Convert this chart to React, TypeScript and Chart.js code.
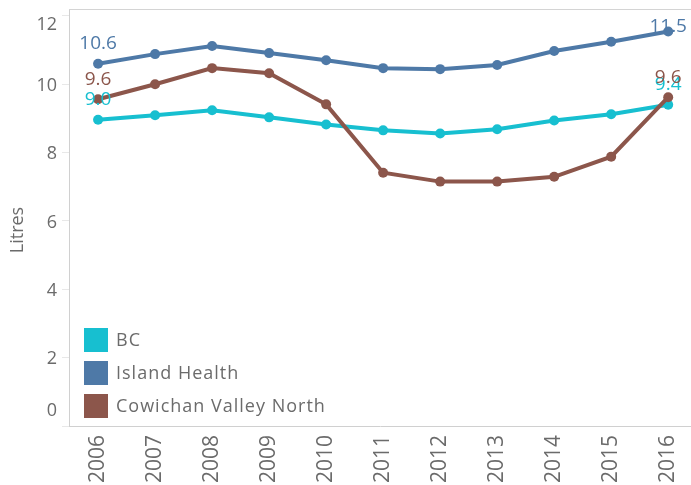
import React, { useEffect, useRef } from "react";
import { Chart, registerables } from "chart.js";

Chart.register(...registerables);

const years = [2006, 2007, 2008, 2009, 2010, 2011, 2012, 2013, 2014, 2015, 2016];
const seriesNames = ["BC", "Island Health", "Cowichan Valley North"];
const bcValues = [8.96, 9.09, 9.24, 9.03, 8.82, 8.65, 8.56, 8.68, 8.94, 9.12, 9.4];
const islandValues = [10.6, 10.88, 11.12, 10.91, 10.7, 10.47, 10.44, 10.56, 10.97, 11.24, 11.54];
const cowichanValues = [9.56, 10.0, 10.47, 10.32, 9.41, 7.41, 7.15, 7.15, 7.29, 7.88, 9.62];
const yTickValues = [0, 2, 4, 6, 8, 10, 12];
const yTitle = "Litres";

const seriesColors = ["#17bfd0", "#4e79a7", "#8c564b"];
const FONT = "'Open Sans', sans-serif";
const TEXT = "#6b6b6b";

const overlay = {
  id: "overlay",
  afterDraw(chart: any) {
    const { ctx, chartArea } = chart;
    const yScale = chart.scales.y;
    ctx.save();
    // top border
    ctx.strokeStyle = "#d4d4d4";
    ctx.lineWidth = 1;
    ctx.beginPath();
    ctx.moveTo(chartArea.left, chartArea.top + 0.5);
    ctx.lineTo(chartArea.right, chartArea.top + 0.5);
    ctx.stroke();

    // y tick labels
    ctx.fillStyle = TEXT;
    ctx.font = `18px ${FONT}`;
    ctx.textAlign = "right";
    ctx.textBaseline = "middle";
    yTickValues.forEach((v) => {
      let py = yScale.getPixelForValue(v) + 1.5;
      py = Math.max(chartArea.top + 16, Math.min(chartArea.bottom - 15, py));
      ctx.fillText(String(v), chartArea.left - 12, py);
    });

    // y title
    ctx.save();
    ctx.translate(18, 230);
    ctx.rotate(-Math.PI / 2);
    ctx.textAlign = "center";
    ctx.font = `18px ${FONT}`;
    ctx.fillText(yTitle, 0, 0);
    ctx.restore();

    // legend
    ctx.font = `18px ${FONT}`;
    ctx.textAlign = "left";
    (ctx as any).letterSpacing = "1px";
    seriesNames.forEach((name, i) => {
      const top = chartArea.bottom - 98 + i * 33;
      ctx.fillStyle = seriesColors[i];
      ctx.fillRect(chartArea.left + 15, top, 24, 24);
      ctx.fillStyle = TEXT;
      ctx.fillText(name, chartArea.left + 47, top + 13);
    });
    (ctx as any).letterSpacing = "0px";

    // data labels on first and last points
    ctx.font = `19px ${FONT}`;
    ctx.textAlign = "center";
    chart.data.datasets.forEach((ds: any, di: number) => {
      const meta = chart.getDatasetMeta(di);
      const n = meta.data.length;
      [0, n - 1].forEach((idx) => {
        const pt = meta.data[idx];
        const val = ds.data[idx].y;
        const cy = Math.max(pt.y - 20, chartArea.top + 18);
        ctx.fillStyle = seriesColors[di];
        ctx.fillText(val.toFixed(1), pt.x, cy);
      });
    });
    ctx.restore();
  },
};

export default function App() {
  const ref = useRef<HTMLCanvasElement>(null);
  useEffect(() => {
    if (!ref.current) return;
    const allValues = [bcValues, islandValues, cowichanValues];
    const chart = new Chart(ref.current, {
      type: "line",
      data: {
        datasets: seriesNames.map((name, i) => ({
          label: name,
          data: years.map((yr, j) => ({ x: yr, y: allValues[i][j] })),
          borderColor: seriesColors[i],
          backgroundColor: seriesColors[i],
          borderWidth: 4,
          pointRadius: 5,
          pointBorderWidth: 0,
          pointHoverRadius: 5,
          tension: 0,
          clip: false,
          order: 2 - i,
        })),
      },
      options: {
        animation: false,
        responsive: false,
        devicePixelRatio: 1,
        layout: { autoPadding: false, padding: { top: 9, right: 0, left: 0, bottom: 0 } },
        plugins: { legend: { display: false }, tooltip: { enabled: false } },
        scales: {
          x: {
            type: "linear",
            min: 2005.49,
            max: 2016.4,
            afterBuildTicks: (s: any) => {
              s.ticks = years.map((v) => ({ value: v }));
            },
            afterFit: (s: any) => {
              s.height = 59;
              s.paddingLeft = 0;
              s.paddingRight = 0;
            },
            grid: { display: false, drawTicks: false },
            border: { color: "#d0d0d0", width: 1 },
            ticks: {
              color: TEXT,
              font: { family: FONT, size: 21 },
              minRotation: 90,
              maxRotation: 90,
              padding: 9,
              autoSkip: false,
              callback: (v: any) => String(v),
            },
          },
          y: {
            min: 0,
            max: 12.2,
            afterBuildTicks: (s: any) => {
              s.ticks = yTickValues.map((v) => ({ value: v }));
            },
            afterFit: (s: any) => {
              s.width = 69;
              s.paddingTop = 0;
              s.paddingBottom = 0;
            },
            grid: { drawOnChartArea: false, drawTicks: true, tickLength: 7, color: "#e8e8e8" },
            border: { color: "#d0d0d0", width: 1 },
            ticks: { display: false },
          },
        },
      },
      plugins: [overlay],
    });
    return () => chart.destroy();
  }, []);
  return (
    <canvas
      ref={ref}
      width={691}
      height={485}
      style={{ position: "absolute", left: 0, top: 0, width: 691, height: 485 }}
    />
  );
}
